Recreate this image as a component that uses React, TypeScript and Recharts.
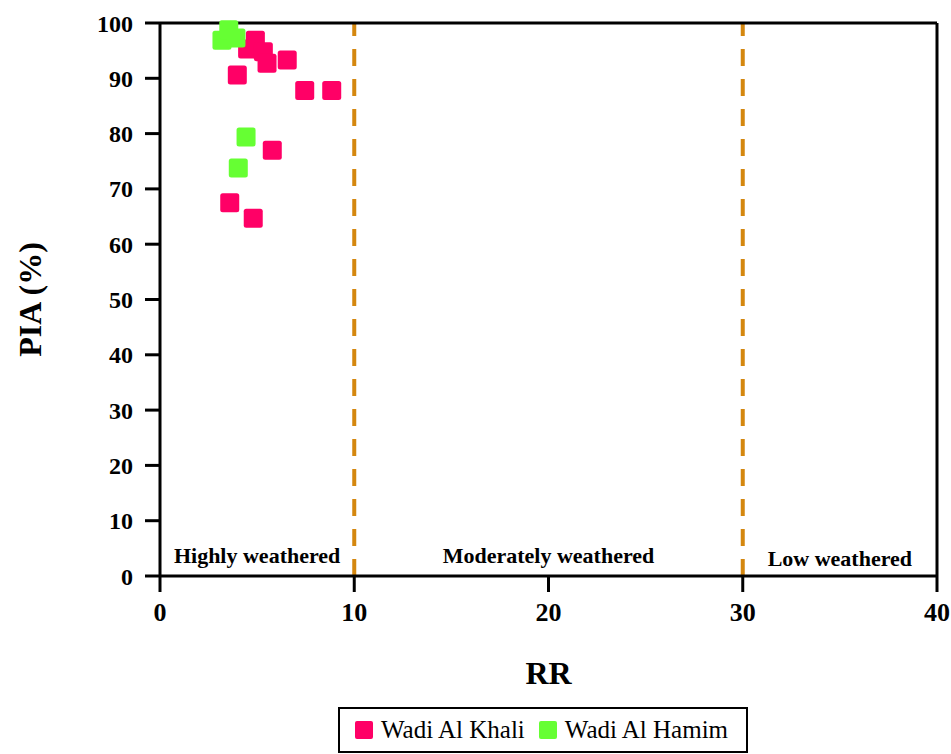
import React from 'react';
import {
  ScatterChart,
  Scatter,
  XAxis,
  YAxis,
  ReferenceLine,
  ReferenceArea,
} from 'recharts';

// RR vs PIA (%) values
const khaliRR = [4.91, 4.51, 5.32, 5.51, 6.55, 3.98, 7.45, 8.84, 5.78, 3.59, 4.8];
const khaliPIA = [96.9, 95.3, 94.8, 92.7, 93.3, 90.6, 87.8, 87.8, 77.0, 67.5, 64.7];
const hamimRR = [3.19, 3.54, 3.91, 4.43, 4.03];
const hamimPIA = [96.9, 98.8, 97.3, 79.4, 73.8];

const xTicks = [0, 10, 20, 30, 40];
const yTicks = [0, 10, 20, 30, 40, 50, 60, 70, 80, 90, 100];

const boundaries = [10, 30];
const regionNames = ['Highly weathered', 'Moderately weathered', 'Low weathered'];
const regionFrom = [0, 10, 30];
const regionTo = [10, 30, 40];

const seriesNames = ['Wadi Al Khali', 'Wadi Al Hamim'];
const seriesColors = ['#ff0066', '#66ff33'];

const toPoints = (xs: number[], ys: number[]) => xs.map((x, i) => ({ rr: x, pia: ys[i] }));
const khaliData = toPoints(khaliRR, khaliPIA);
const hamimData = toPoints(hamimRR, hamimPIA);

const FONT = '"Liberation Serif", "Times New Roman", serif';

const SquareMarker = (props: any) => {
  const { cx, cy, fill } = props;
  if (cx == null || cy == null) return null;
  return <rect x={cx - 9.5} y={cy - 9.5} width={19} height={19} rx={2.5} fill={fill} />;
};

const boldText = (size: number) => ({ fill: '#000', fontSize: size, fontWeight: 700, fontFamily: FONT });

export default function App() {
  return (
    <div style={{ position: 'absolute', left: 0, top: 0, width: 951, height: 754, background: '#fff' }}>
      <ScatterChart
        width={951}
        height={754}
        margin={{ top: 23, right: 14, left: 0, bottom: 0 }}
        style={{ fontFamily: FONT }}
      >
        <XAxis
          type="number"
          dataKey="rr"
          domain={[0, 40]}
          ticks={xTicks}
          height={178}
          axisLine={{ stroke: '#000', strokeWidth: 3 }}
          tickLine={{ stroke: '#000', strokeWidth: 3 }}
          tickSize={16}
          tickMargin={11}
          tick={boldText(26)}
          label={{ value: 'RR', position: 'insideBottom', offset: 70, style: boldText(32) }}
        />
        <YAxis
          type="number"
          dataKey="pia"
          domain={[0, 100]}
          ticks={yTicks}
          width={160}
          axisLine={{ stroke: '#000', strokeWidth: 3 }}
          tickLine={{ stroke: '#000', strokeWidth: 3 }}
          tickSize={15}
          tickMargin={12}
          tick={boldText(24)}
          label={{
            value: 'PIA (%)',
            angle: -90,
            position: 'insideLeft',
            offset: 30,
            style: { ...boldText(32), textAnchor: 'middle' },
          }}
        />
        {regionNames.map((name, i) => (
          <ReferenceArea
            key={name}
            x1={regionFrom[i]}
            x2={regionTo[i]}
            fillOpacity={0}
            strokeOpacity={0}
            label={{ value: name, position: 'insideBottom', offset: i === 2 ? 10 : 13, style: boldText(22) }}
          />
        ))}
        {boundaries.map((b) => (
          <ReferenceLine key={b} x={b} stroke="#d4870f" strokeWidth={4} strokeDasharray="17 13" />
        ))}
        <ReferenceLine y={100} stroke="#000" strokeWidth={3} />
        <ReferenceLine x={40} stroke="#000" strokeWidth={3} />
        <Scatter
          name={seriesNames[0]}
          data={khaliData}
          fill={seriesColors[0]}
          shape={SquareMarker}
          isAnimationActive={false}
        />
        <Scatter
          name={seriesNames[1]}
          data={hamimData}
          fill={seriesColors[1]}
          shape={SquareMarker}
          isAnimationActive={false}
        />
      </ScatterChart>
      <div
        style={{
          position: 'absolute',
          left: 338,
          top: 707,
          width: 410,
          height: 46,
          border: '2.5px solid #000',
          display: 'flex',
          alignItems: 'center',
          paddingLeft: 15,
          boxSizing: 'border-box',
          fontFamily: FONT,
          fontSize: 25,
          color: '#000',
        }}
      >
        {seriesNames.map((name, i) => (
          <div key={name} style={{ display: 'flex', alignItems: 'center', marginRight: 14 }}>
            <span
              style={{
                display: 'inline-block',
                width: 18,
                height: 18,
                borderRadius: 2,
                background: seriesColors[i],
                marginRight: 8,
              }}
            />
            <span>{name}</span>
          </div>
        ))}
      </div>
    </div>
  );
}
